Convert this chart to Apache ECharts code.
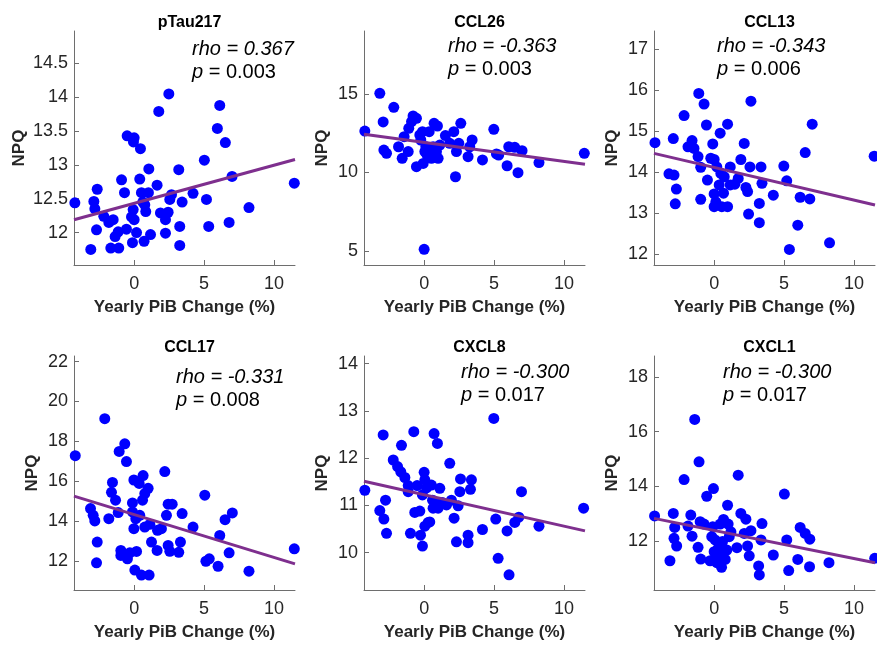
<!DOCTYPE html>
<html>
<head>
<meta charset="utf-8">
<title>NPQ vs Yearly PiB Change</title>
<script src="https://cdn.jsdelivr.net/npm/echarts@6/dist/echarts.min.js"></script>
<style>
    html, body { margin: 0; padding: 0; background: #fff; }
    #chart { width: 877px; height: 645px; }
</style>
</head>
<body>
<div id="chart"></div>
<script>
// 各面板标题与统计量
const panelTitles = ['pTau217', 'CCL26', 'CCL13', 'CCL17', 'CXCL8', 'CXCL1']
const rhoValues = ['0.367', '-0.363', '-0.343', '-0.331', '-0.300', '-0.300']
const pValues = ['0.003', '0.003', '0.006', '0.008', '0.017', '0.017']

// x 轴 (Yearly PiB Change %)
const xRange = [-4.3, 11.5]
const xTicks = [0, 5, 10]

// y 轴范围与刻度
const yRanges = [[11.52, 14.98], [4.1, 19.0], [11.74, 17.44], [10.56, 22.28], [9.21, 14.16], [10.21, 18.77]]
const yTicks = [
    [12, 12.5, 13, 13.5, 14, 14.5],
    [5, 10, 15],
    [12, 13, 14, 15, 16, 17],
    [12, 14, 16, 18, 20, 22],
    [10, 11, 12, 13, 14],
    [12, 14, 16, 18]
]

// 散点 [PiB change, NPQ]
const ptau217Pts = [
    [-4.24, 12.44], [-3.10, 11.75], [-2.88, 12.46], [-2.81, 12.35], [-2.64, 12.64], [-2.69, 12.04],
    [-2.17, 12.24], [-1.81, 12.15], [-1.50, 12.19], [-1.67, 11.77], [-1.10, 11.77], [-1.36, 11.94],
    [-1.14, 12.01], [-0.90, 12.78], [-0.69, 12.59], [-0.55, 12.05], [-0.50, 13.43], [0.0, 13.40],
    [-0.07, 12.34], [-0.19, 12.23], [0.0, 12.19], [-0.12, 11.85], [0.17, 12.0], [0.40, 12.79],
    [0.45, 13.24], [0.52, 12.59], [0.71, 11.87], [0.83, 12.31], [1.05, 12.94], [1.02, 12.59],
    [1.17, 11.97], [0.76, 12.41], [1.64, 12.70], [1.76, 13.79], [1.88, 12.29], [2.24, 12.19],
    [2.24, 11.99], [2.43, 12.30], [2.48, 14.05], [2.55, 12.49], [2.67, 12.56], [3.19, 12.93],
    [3.26, 12.09], [3.26, 11.81], [3.43, 12.45], [4.21, 12.58], [5.02, 13.07], [5.17, 12.49],
    [5.33, 12.09], [5.95, 13.54], [6.12, 13.88], [6.52, 13.33], [6.79, 12.15], [7.0, 12.83],
    [8.21, 12.37], [11.45, 12.73], [-0.05, 13.34], [0.62, 12.45]
]
const ccl26Pts = [
    [-4.24, 12.63], [-3.17, 15.03], [-2.93, 13.21], [-2.88, 11.42], [-2.69, 11.21], [-2.17, 14.14],
    [-1.83, 11.63], [-1.57, 10.89], [-1.43, 12.27], [-1.14, 11.32], [-1.10, 12.80], [-0.90, 13.23],
    [-0.79, 13.59], [-0.55, 13.44], [-0.55, 10.36], [-0.31, 12.38], [-0.24, 12.06], [-0.12, 12.59],
    [-0.07, 10.57], [0.0, 5.10], [0.05, 11.32], [0.12, 11.63], [0.21, 11.1], [0.36, 12.59],
    [0.40, 11.42], [0.52, 10.89], [0.64, 11.63], [0.71, 13.12], [0.88, 11.32], [0.95, 12.95],
    [1.0, 10.89], [1.12, 11.74], [1.52, 12.34], [1.83, 11.85], [2.12, 12.59], [2.24, 9.72],
    [2.31, 11.32], [2.48, 11.85], [2.62, 13.12], [3.14, 11.0], [3.26, 11.63], [3.43, 12.06],
    [4.17, 10.79], [4.98, 12.74], [5.17, 11.17], [5.33, 11.1], [5.93, 10.42], [6.05, 11.63],
    [6.48, 11.59], [6.71, 9.98], [7.0, 11.38], [8.21, 10.62], [11.45, 11.21]
]
const ccl13Pts = [
    [-4.23, 14.72], [-3.23, 13.96], [-2.92, 14.82], [-2.87, 13.93], [-2.70, 13.59], [-2.78, 13.23],
    [-2.15, 15.38], [-1.87, 14.62], [-1.58, 14.77], [-1.44, 14.58], [-1.10, 15.92], [-1.15, 14.38],
    [-0.96, 14.12], [-0.96, 13.34], [-0.72, 15.66], [-0.55, 15.15], [-0.48, 13.81], [-0.10, 14.69],
    [-0.24, 14.34], [0.0, 14.31], [0.0, 13.47], [0.0, 13.16], [0.12, 13.28], [0.19, 14.13],
    [0.36, 13.69], [0.43, 14.95], [0.48, 13.97], [0.55, 13.16], [0.67, 13.49], [0.72, 13.89],
    [0.96, 15.17], [0.96, 13.16], [1.15, 14.13], [1.15, 13.69], [1.48, 13.71], [1.72, 13.85],
    [1.91, 14.31], [2.15, 14.70], [2.27, 13.63], [2.39, 13.53], [2.46, 12.98], [2.56, 14.13],
    [2.63, 15.73], [3.23, 12.77], [3.23, 13.24], [3.35, 14.13], [3.42, 13.73], [4.23, 13.44],
    [4.98, 14.15], [5.19, 13.79], [5.38, 12.12], [5.98, 12.71], [6.15, 13.39], [6.51, 14.48],
    [6.84, 13.35], [7.01, 15.17], [8.25, 12.28], [11.44, 14.39]
]
const ccl17Pts = [
    [-4.21, 17.29], [-3.12, 14.64], [-2.93, 14.30], [-2.81, 14.02], [-2.64, 12.96], [-2.69, 11.92],
    [-2.10, 19.14], [-1.81, 14.13], [-1.62, 15.45], [-1.55, 15.95], [-1.33, 15.06], [-1.14, 14.44],
    [-1.07, 17.50], [-0.95, 12.54], [-0.95, 12.29], [-0.67, 17.88], [-0.55, 16.99], [-0.48, 12.12],
    [-0.31, 12.42], [-0.12, 14.92], [-0.12, 14.47], [-0.02, 13.63], [-0.02, 16.07], [0.05, 11.56],
    [0.12, 14.13], [0.17, 12.49], [0.36, 15.90], [0.40, 14.30], [0.52, 11.31], [0.60, 15.06],
    [0.64, 16.29], [0.76, 15.39], [0.76, 13.71], [1.0, 15.65], [1.07, 11.31], [1.12, 13.85],
    [1.24, 12.96], [1.67, 13.55], [1.64, 12.54], [1.95, 13.63], [2.19, 16.49], [2.31, 14.30],
    [2.43, 12.79], [2.43, 14.86], [2.55, 12.50], [2.72, 14.86], [3.19, 12.45], [3.31, 12.96],
    [3.43, 14.39], [4.21, 13.71], [5.05, 15.31], [5.13, 12.0], [5.37, 12.12], [6.0, 11.75],
    [6.12, 13.29], [6.50, 14.08], [6.79, 12.42], [7.02, 14.42], [8.21, 11.50], [11.45, 12.62]
]
const cxcl8Pts = [
    [-4.24, 11.32], [-3.17, 10.89], [-2.93, 12.49], [-2.88, 10.71], [-2.76, 11.11], [-2.69, 10.41],
    [-2.21, 11.96], [-1.90, 11.82], [-1.62, 12.27], [-1.67, 11.71], [-1.38, 11.59], [-1.14, 11.42],
    [-1.14, 11.29], [-0.98, 10.41], [-0.74, 12.56], [-0.67, 10.85], [-0.50, 11.42], [-0.31, 10.88],
    [-0.26, 10.37], [-0.12, 11.22], [-0.12, 10.14], [0.0, 11.70], [0.05, 11.54], [0.05, 10.56],
    [0.17, 11.37], [0.29, 10.64], [0.40, 10.65], [0.52, 11.43], [0.60, 11.11], [0.64, 10.94],
    [0.71, 12.52], [0.88, 11.02], [0.95, 12.31], [1.0, 10.94], [1.12, 11.36], [1.29, 11.06],
    [1.60, 11.01], [1.83, 11.89], [1.95, 11.11], [2.14, 10.73], [2.31, 10.23], [2.43, 10.99],
    [2.55, 11.29], [2.60, 11.56], [3.14, 10.37], [3.14, 10.21], [3.31, 11.34], [3.38, 11.54],
    [4.17, 10.49], [4.98, 12.84], [5.12, 10.71], [5.29, 9.88], [5.93, 10.46], [6.07, 9.53],
    [6.48, 10.64], [6.77, 10.75], [6.96, 11.29], [8.21, 10.56], [11.40, 10.94]
]
const cxcl1Pts = [
    [-4.26, 12.92], [-3.16, 11.28], [-2.92, 13.01], [-2.82, 12.50], [-2.87, 12.10], [-2.68, 11.82],
    [-2.15, 14.25], [-1.87, 12.55], [-1.67, 12.95], [-1.58, 12.18], [-1.39, 16.45], [-1.15, 11.77],
    [-1.08, 14.90], [-1.0, 12.71], [-0.96, 11.34], [-0.72, 12.62], [-0.53, 13.64], [-0.29, 11.28],
    [-0.17, 12.16], [-0.10, 12.52], [-0.05, 13.92], [0.0, 11.61], [0.07, 12.04], [0.12, 11.49],
    [0.19, 11.21], [0.29, 11.73], [0.43, 12.62], [0.48, 11.55], [0.53, 11.04], [0.60, 11.98],
    [0.67, 12.79], [0.79, 11.33], [0.91, 11.67], [0.96, 13.31], [1.0, 12.62], [1.08, 12.16],
    [1.20, 12.34], [1.63, 11.76], [1.72, 14.41], [1.91, 13.01], [2.15, 12.28], [2.27, 12.80],
    [2.39, 11.82], [2.51, 11.46], [2.63, 12.38], [3.18, 11.09], [3.23, 10.76], [3.35, 12.04],
    [3.42, 12.64], [4.23, 11.49], [5.02, 13.72], [5.19, 12.04], [5.33, 10.92], [5.98, 11.33],
    [6.15, 12.50], [6.51, 12.28], [6.84, 12.07], [6.82, 11.06], [8.21, 11.21], [11.48, 11.37]
]

// 拟合线端点
const ptau217Fit = [[-4.3, 12.19], [11.5, 13.08]]
const ccl26Fit = [[-4.3, 12.42], [11.5, 10.51]]
const ccl13Fit = [[-4.3, 14.46], [11.5, 13.20]]
const ccl17Fit = [[-4.3, 15.26], [11.5, 11.87]]
const cxcl8Fit = [[-4.3, 11.51], [11.5, 10.46]]
const cxcl1Fit = [[-4.3, 12.83], [11.5, 11.21]]

const allPts = [ptau217Pts, ccl26Pts, ccl13Pts, ccl17Pts, cxcl8Pts, cxcl1Pts]
const allFits = [ptau217Fit, ccl26Fit, ccl13Fit, ccl17Fit, cxcl8Fit, cxcl1Fit]

// 布局
const gridLefts = [74, 364, 654]
const gridTops = [31, 356]
const gridW = 221
const gridH = 234
const yNameGaps = [46, 33, 33, 33, 33, 33]
// 注释文字位置 [left, firstRowCenterY]
const notePos = [[192, 50], [448, 47], [717, 47], [176, 378], [461, 373], [723, 373]]

const axisColor = '#6e6e6e'
const labelColor = '#262626'
const axisFont = 'Liberation Sans, Arial, sans-serif'

const chart = echarts.init(document.getElementById('chart'), null, { renderer: 'canvas' })

const grid = []
const xAxis = []
const yAxis = []
const series = []
const title = []
const graphic = []

panelTitles.forEach((name, i) => {
    const left = gridLefts[i % 3]
    const top = gridTops[Math.floor(i / 3)]
    grid.push({ left, top, width: gridW, height: gridH, containLabel: false })

    xAxis.push({
        type: 'value',
        gridIndex: i,
        min: xRange[0],
        max: xRange[1],
        name: 'Yearly PiB Change (%)',
        nameLocation: 'middle',
        nameGap: 34,
        nameTextStyle: { fontFamily: axisFont, fontWeight: 'bold', fontSize: 17, color: labelColor },
        splitLine: { show: false },
        axisLine: { onZero: false, lineStyle: { color: axisColor, width: 1 } },
        axisTick: { inside: true, length: 5, customValues: xTicks, lineStyle: { color: axisColor } },
        axisLabel: { customValues: xTicks, margin: 10, fontFamily: axisFont, fontSize: 18, color: labelColor }
    })

    yAxis.push({
        type: 'value',
        gridIndex: i,
        min: yRanges[i][0],
        max: yRanges[i][1],
        name: 'NPQ',
        nameLocation: 'middle',
        nameGap: yNameGaps[i],
        nameTextStyle: { fontFamily: axisFont, fontWeight: 'bold', fontSize: 17, color: labelColor },
        splitLine: { show: false },
        axisLine: { show: true, onZero: false, lineStyle: { color: axisColor, width: 1 } },
        axisTick: { show: true, inside: true, length: 5, customValues: yTicks[i], lineStyle: { color: axisColor } },
        axisLabel: { customValues: yTicks[i], margin: 6, fontFamily: axisFont, fontSize: 18, color: labelColor }
    })

    series.push({
        type: 'scatter',
        xAxisIndex: i,
        yAxisIndex: i,
        data: allPts[i],
        symbolSize: 11,
        itemStyle: { color: '#0000ff', opacity: 1 },
        z: 2
    })
    series.push({
        type: 'line',
        xAxisIndex: i,
        yAxisIndex: i,
        data: allFits[i],
        showSymbol: false,
        lineStyle: { color: '#7e2f8e', width: 3 },
        z: 3
    })

    title.push({
        text: name,
        left: left + gridW / 2,
        top: top - 21,
        textAlign: 'center',
        textStyle: { fontFamily: axisFont, fontWeight: 'bold', fontSize: 16, color: '#000' }
    })

    // rho / p 注释
    const [nx, ny] = notePos[i]
    graphic.push({
        type: 'text',
        left: nx,
        top: ny - 11,
        style: {
            text: 'rho = ' + rhoValues[i],
            fontFamily: axisFont,
            fontStyle: 'italic',
            fontSize: 20,
            fill: '#000'
        }
    })
    graphic.push({
        type: 'text',
        left: nx,
        top: ny + 12,
        style: {
            text: '{i|p} = ' + pValues[i],
            fontFamily: axisFont,
            fontSize: 20,
            fill: '#000',
            rich: {
                i: { fontFamily: axisFont, fontStyle: 'italic', fontSize: 20, fill: '#000' }
            }
        }
    })
})

chart.setOption({
    animation: false,
    backgroundColor: '#fff',
    title,
    grid,
    xAxis,
    yAxis,
    series,
    graphic
})
</script>
</body>
</html>
